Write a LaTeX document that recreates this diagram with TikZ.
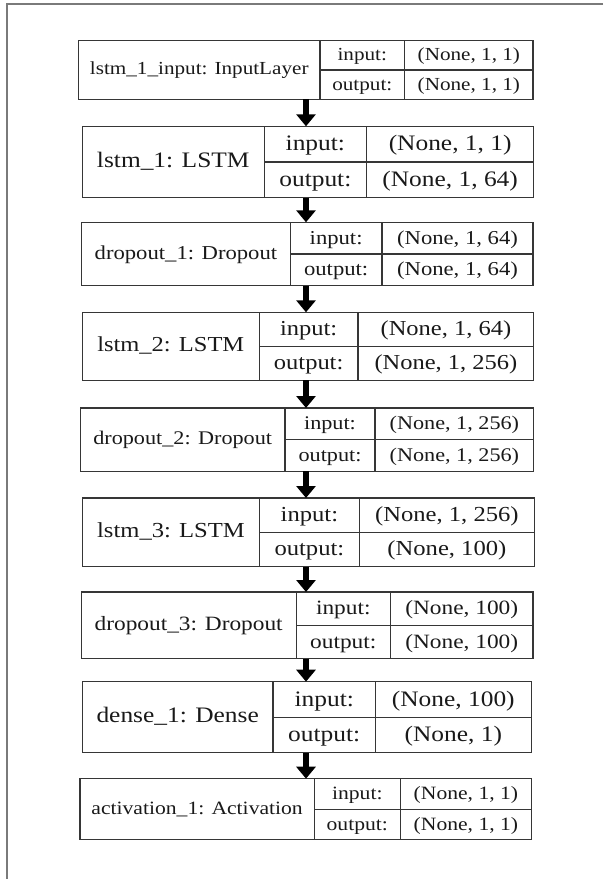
\documentclass[tikz,border=0pt]{standalone}
\usepackage{fontspec}
\setmainfont{Liberation Serif}[FakeStretch=1.15]
\usetikzlibrary{arrows.meta}
\definecolor{boxline}{HTML}{363636}
\definecolor{frameline}{HTML}{7A7A7A}
\tikzset{
  layerbox/.style={draw=boxline, line width=1.3pt, inner sep=0pt, outer sep=0pt, rectangle},
  cellline/.style={draw=boxline, line width=1.3pt},
  txt/.style={inner sep=0pt, outer sep=0pt, anchor=base, text=black!90},
  flow/.style={line width=6.5pt, -{Triangle[width=19pt,length=12pt]}, black},
}
\begin{document}
\begin{tikzpicture}[x=1pt,y=-1pt]
\useasboundingbox (0,0) rectangle (603,879);
\draw[frameline, line width=1.6pt] (603,4) -- (7,4) -- (7,879);
\coordinate (ax) at (306,0);
\foreach \id/\l/\da/\db/\r/\t/\b/\fs/\nm/\iv/\ov in {
 1/78.5/320/404.6/533.1/40.7/99.3/18.4/{lstm\_1\_input: InputLayer}/{(None, 1, 1)}/{(None, 1, 1)},
 2/82.3/264.2/366.5/533.8/126.3/197.7/22.1/{lstm\_1: LSTM}/{(None, 1, 1)}/{(None, 1, 64)},
 3/81.5/290.4/381.9/533.1/222.3/285.7/19.7/{dropout\_1: Dropout}/{(None, 1, 64)}/{(None, 1, 64)},
 4/82.3/259.2/358.1/533.8/312.3/380.3/21.3/{lstm\_2: LSTM}/{(None, 1, 64)}/{(None, 1, 256)},
 5/80.4/285/375/533.8/408/471.3/19.3/{dropout\_2: Dropout}/{(None, 1, 256)}/{(None, 1, 256)},
 6/82.3/259.6/359.2/534.6/498/566.7/21.4/{lstm\_3: LSTM}/{(None, 1, 256)}/{(None, 100)},
 7/81.2/296.2/390.4/533.1/592/658.7/20.3/{dropout\_3: Dropout}/{(None, 100)}/{(None, 100)},
 8/82.3/273.1/375.4/531.2/681.7/752.7/22.1/{dense\_1: Dense}/{(None, 100)}/{(None, 1)},
 9/80/314.2/400.4/531.5/778.7/839.7/18.8/{activation\_1: Activation}/{(None, 1, 1)}/{(None, 1, 1)}
}{
  \pgfmathsetmacro\w{\r-\l}
  \pgfmathsetmacro\h{\b-\t}
  \pgfmathsetmacro\m{(\t+\b)/2}
  \pgfmathsetmacro\cx{(\l+\r)/2}
  \pgfmathsetmacro\nx{(\l+\da)/2}
  \pgfmathsetmacro\lx{(\da+\db)/2}
  \pgfmathsetmacro\vx{(\db+\r)/2}
  \pgfmathsetmacro\yn{\m+0.26*\fs}
  \pgfmathsetmacro\yi{(\t+\m)/2+0.3*\fs}
  \pgfmathsetmacro\yo{(\m+\b)/2+0.3*\fs}
  \node[layerbox, minimum width=\w pt, minimum height=\h pt] (b\id) at (\cx,\m) {};
  \draw[cellline] (\da,\t) -- (\da,\b) (\db,\t) -- (\db,\b) (\da,\m) -- (\r,\m);
  \begin{scope}[every node/.append style={font=\fontsize{\fs}{\fs}\selectfont}]
  \node[txt] (n\id) at (\nx,\yn) {\nm};
  \node[txt] (i\id) at (\lx,\yi) {input:};
  \node[txt] (o\id) at (\lx,\yo) {output:};
  \node[txt] (iv\id) at (\vx,\yi) {\iv};
  \node[txt] (ov\id) at (\vx,\yo) {\ov};
  \end{scope}
}
\foreach \a/\c in {1/2,2/3,3/4,4/5,5/6,6/7,7/8,8/9}{
  \draw[flow] (b\a.south -| ax) -- (b\c.north -| ax);
}
\end{tikzpicture}
\end{document}
